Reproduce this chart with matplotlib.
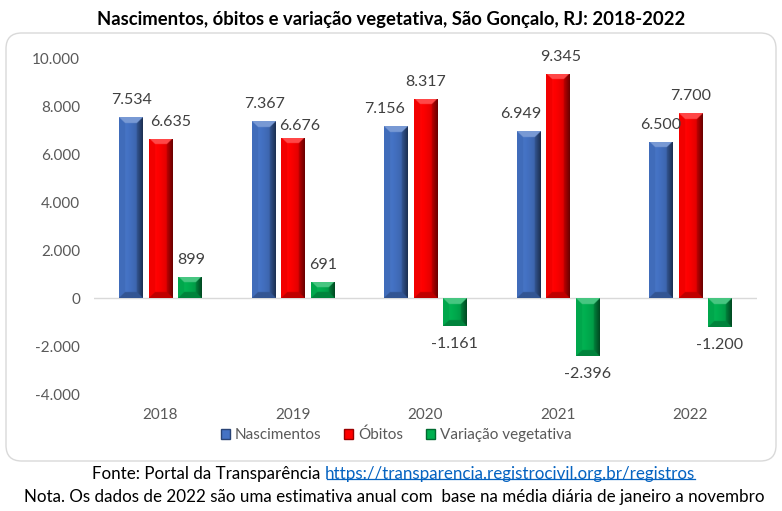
import numpy as np
import matplotlib
matplotlib.use("Agg")
import matplotlib.pyplot as plt
from matplotlib.colors import to_rgb
from matplotlib.patches import FancyBboxPatch, Patch
from matplotlib.lines import Line2D

plt.rcParams['font.family'] = ['Lato', 'DejaVu Sans']
plt.rcParams['axes.unicode_minus'] = False

# ---------------- data ----------------
years = ["2018", "2019", "2020", "2021", "2022"]
nascimentos = [7534, 7367, 7156, 6949, 6500]
obitos = [6635, 6676, 8317, 9345, 7700]
variacao = [899, 691, -1161, -2396, -1200]
series_names = ["Nascimentos", "Óbitos", "Variação vegetativa"]
yticks = [-4000, -2000, 0, 2000, 4000, 6000, 8000, 10000]
title = "Nascimentos, óbitos e variação vegetativa, São Gonçalo, RJ: 2018-2022"
fonte_txt = "Fonte: Portal da Transparência "
fonte_link = "https://transparencia.registrocivil.org.br/registros"
nota_txt = "Nota. Os dados de 2022 são uma estimativa anual com  base na média diária de janeiro a novembro"

# ---------------- style ----------------
colors = ["#4472C4", "#FF0000", "#00B050"]
# manual label nudges (px) per series/year (dx, dy)
label_dx = [[1, 1, -11, -8, 0],
            [10, 7, 0, 3, 0],
            [1, 1, 0, 0, 0]]
label_dy = [[0, 0, 0, 0, 0],
            [0, 5, 0, 0, 0],
            [0, 0, 0, 0, 0]]

W, H, DPI = 782, 511, 100
fig = plt.figure(figsize=(W / DPI, H / DPI), dpi=DPI)
fig.patch.set_facecolor("white")

def fx(px):
    return px / W

def fy(py):
    return 1 - py / H

# rounded chart border
box = FancyBboxPatch((fx(6), fy(461)), fx(770), 428 / H,
                     boxstyle="round,pad=0,rounding_size=0.02",
                     transform=fig.transFigure, facecolor="none",
                     edgecolor="#D9D9D9", linewidth=1.0, zorder=-1,
                     mutation_aspect=W / H)
fig.patches.append(box)

ax_left, ax_right = 94.05, 756.55
ax_top, ax_bottom = 58.1, 394.4
ax = fig.add_axes([fx(ax_left), fy(ax_bottom), fx(ax_right - ax_left), (ax_bottom - ax_top) / H])
ax.set_facecolor("none")
ax.set_zorder(2)
ax.set_xlim(-0.5, len(years) - 0.5)
ax.set_ylim(-4000, 10000)
for s in ax.spines.values():
    s.set_visible(False)
ax.axhline(0, color="#D9D9D9", lw=1.0, zorder=1)
ax.set_yticks(yticks)
ax.set_yticklabels([f"{v:,.0f}".replace(",", ".") for v in yticks])
ax.set_xticks(range(len(years)))
ax.set_xticklabels(years)
ax.tick_params(axis="both", length=0, colors="#595959", labelsize=11)
ax.tick_params(axis="y", pad=10)
ax.tick_params(axis="x", pad=10)

x = np.arange(len(years))
bw = 0.1736
off = 0.2226
all_series = [nascimentos, obitos, variacao]

fig.canvas.draw()
p0 = ax.transData.transform((0, 0))
p1 = ax.transData.transform((1, 1000))
px_per_x = p1[0] - p0[0]
px_per_y = (p1[1] - p0[1]) / 1000.0


def shade(c, f):
    c = np.asarray(c)
    return np.where(f >= 1, c + (1 - c) * np.clip(f - 1, 0, 1), c * f)


def bevel_image(color, wpx, hpx, b=6.0, scale=4):
    Wi = max(int(round(wpx * scale)), 2)
    Hi = max(int(round(hpx * scale)), 2)
    xs = (np.arange(Wi) + 0.5) / scale
    ys = (np.arange(Hi) + 0.5) / scale
    X, Y = np.meshgrid(xs, ys)
    dt, dl, dr, db = Y, X, wpx - X, hpx - Y
    d = np.stack([dt, dl, dr, db])
    idx = np.argmin(d, axis=0)
    m = np.min(d, axis=0)
    u = X / wpx
    flat = 1.04 - 0.30 * u ** 2
    # top face lighter, left slight, right dark gradient, bottom slightly dark
    right_f = 0.75 - 0.35 * (1 - dr / b)
    face_f = np.choose(idx, [np.full_like(X, 1.28), np.full_like(X, 0.95),
                             right_f, np.full_like(X, 0.75)])
    f = np.where(m < b, face_f, flat)
    rgb = np.array(to_rgb(color))
    img = np.empty((Hi, Wi, 3))
    for k in range(3):
        img[..., k] = shade(rgb[k], f)
    return np.clip(img, 0, 1)


for si, (vals, col) in enumerate(zip(all_series, colors)):
    xpos = x + (si - 1) * off
    bars = ax.bar(xpos, vals, width=bw, color=col, zorder=2, label=series_names[si])
    for bi, (rect, v) in enumerate(zip(bars, vals)):
        x0 = rect.get_x()
        x1 = x0 + rect.get_width()
        y0, y1 = min(0, v), max(0, v)
        img = bevel_image(col, rect.get_width() * px_per_x, abs(v) * px_per_y)
        im = ax.imshow(img, extent=(x0, x1, y0, y1), aspect="auto",
                       interpolation="bilinear", origin="upper", zorder=3)
        im.set_clip_path(rect)
        lbl = f"{v:,.0f}".replace(",", ".")
        dy = -17 if v >= 0 else 18
        dy += label_dy[si][bi]
        ax.annotate(lbl, (x0 + rect.get_width() / 2, v),
                    xytext=(label_dx[si][bi] * 72 / DPI, -dy * 72 / DPI),
                    textcoords="offset points", ha="center", va="center",
                    fontsize=11.5, color="#404040", zorder=4)

ax.set_xlim(-0.5, len(years) - 0.5)
ax.set_ylim(-4000, 10000)

# legend
handles = [Patch(facecolor=c, edgecolor=shade(np.array(to_rgb(c)), 0.6)) for c in colors]
leg = fig.legend(handles, series_names, loc="center", bbox_to_anchor=(fx(396), fy(435)),
                 ncol=3, frameon=False, fontsize=11, handlelength=0.6, handleheight=0.6,
                 handletextpad=0.3, columnspacing=1.5, labelcolor="#595959")

renderer = fig.canvas.get_renderer()


def fit_text(txt, cx, cy, target_w, **kw):
    t = fig.text(fx(cx), fy(cy), txt, ha="center", va="center", **kw)
    fs = t.get_fontsize()
    w = t.get_window_extent(renderer).width
    t.set_fontsize(fs * target_w / w)
    return t


fit_text(title, 391, 19, 588, fontsize=13, fontweight="bold", color="black")

# footer line 1 (text + hyperlink)
fs_foot = 11.5
t1 = fig.text(0, 0, fonte_txt, fontsize=fs_foot, color="black")
t2 = fig.text(0, 0, fonte_link, fontsize=fs_foot, color="#0563C1")
w1 = t1.get_window_extent(renderer).width
w2 = t2.get_window_extent(renderer).width
scale_f = 607 / (w1 + w2)
fs_foot *= scale_f
t1.set_fontsize(fs_foot)
t2.set_fontsize(fs_foot)
w1 = t1.get_window_extent(renderer).width
w2 = t2.get_window_extent(renderer).width
start = 393 - (w1 + w2) / 2
cy1 = 474
t1.set_position((fx(start), fy(cy1)))
t1.set_va("center")
t2.set_position((fx(start + w1), fy(cy1)))
t2.set_va("center")
t2.set_url(fonte_link)
fig.canvas.draw()
e2 = t2.get_window_extent(renderer)
uy = e2.y0 + 2.5
fig.add_artist(Line2D([e2.x0 / W + 3 / W, e2.x1 / W], [uy / H, uy / H], transform=fig.transFigure,
                      color="#0563C1", lw=0.9))

fit_text(nota_txt, 394, 497, 744, fontsize=11.5, color="black")

fig.savefig("out.png", dpi=DPI, facecolor="white")
